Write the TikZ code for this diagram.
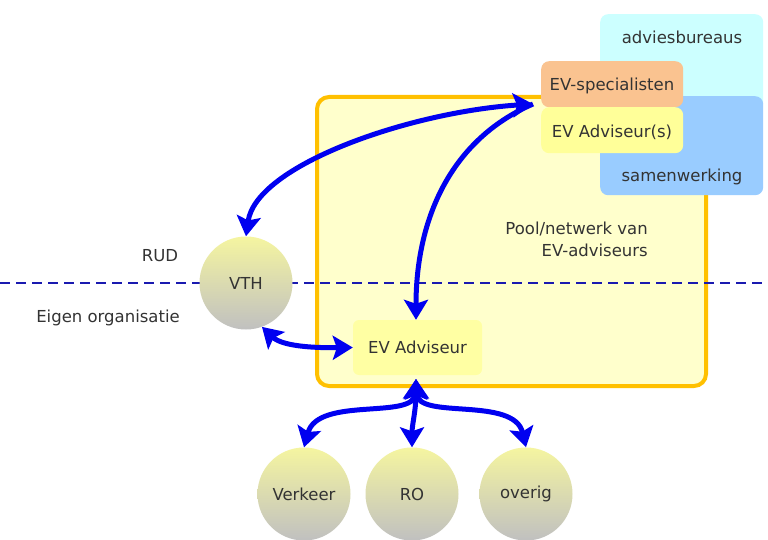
\documentclass[tikz,border=0pt]{standalone}
\usepackage{fontspec}
\setmainfont{DejaVu Sans}
\usetikzlibrary{arrows.meta}
\definecolor{txt}{HTML}{333333}
\definecolor{arrblue}{HTML}{0000F0}
\definecolor{dashblue}{HTML}{1A1AB0}
\definecolor{poolfill}{HTML}{FFFFCC}
\definecolor{poolline}{HTML}{FFC000}
\definecolor{cyanbox}{HTML}{CCFFFF}
\definecolor{bluebox}{HTML}{99CCFF}
\definecolor{salmon}{HTML}{FAC390}
\definecolor{advfill}{HTML}{FFFF99}
\definecolor{circtop}{HTML}{F5F5A0}
\definecolor{circbot}{HTML}{C0C0C0}
\begin{document}
\begin{tikzpicture}[x=1pt,y=-1pt,
  font=\fontsize{16.5}{22}\selectfont, text=txt,
  tip/.tip={Stealth[length=20pt,width=24pt,inset=4pt]},
  arr/.style={draw=arrblue, line width=5pt},
  box/.style={rounded corners=8pt, inner sep=0pt, anchor=north west},
  circ/.style={circle, minimum size=93pt, inner sep=0pt, top color=circtop, bottom color=circbot, draw=none},
  lbl/.style={inner sep=0pt}]
\clip (0,0) rectangle (768,540);
\fill[white] (0,0) rectangle (768,540);
% pool box
\node[draw=poolline, fill=poolfill, line width=4pt, rounded corners=12pt,
  minimum width=389pt, minimum height=289pt, inner sep=0pt] (pool) at (511.5,241.5) {};
\node[lbl, align=right, anchor=north east] (pooltxt) at (648,222) {Pool/netwerk van\\EV-adviseurs};
% dashed line
\coordinate (dl) at (0,283);
\coordinate (dr) at (768,283);
\draw[dashblue, line width=2pt, dash pattern=on 10pt off 6pt] (dl) -- (dr);
\node[lbl] (rud) at (160,256) {RUD};
\node[lbl] (eigen) at (108,318) {Eigen organisatie};
% right boxes
\node[box, fill=cyanbox, minimum width=163pt, minimum height=96pt] (adv) at (600,14) {};
\node[lbl] (advtxt) at (682,37) {adviesbureaus};
\node[box, fill=bluebox, minimum width=163pt, minimum height=99pt] (samen) at (600,96) {};
\node[lbl] (samentxt) at (682,177) {samenwerking};
\node[box, fill=salmon, minimum width=142pt, minimum height=46pt] (spec) at (541,61) {};
\node[lbl] (spectxt) at (612,86) {EV-specialisten};
\node[box, fill=advfill, minimum width=142pt, minimum height=46pt] (advs) at (541,107) {};
\node[lbl] (advstxt) at (612,132) {EV Adviseur(s)};
% EV adviseur
\node[fill=advfill!80!poolfill, rounded corners=6pt, minimum width=129pt, minimum height=55pt, inner sep=0pt] (eva) at (417.5,347.5) {EV Adviseur};
% circles
\node[circ] (vth) at (246,283) {VTH};
\node[circ] (verk) at (304,494) {Verkeer};
\node[circ] (ro) at (412,494) {RO};
\node[circ] (ov) at (526,494) {overig};
% hubs
\coordinate (hub) at (533,104);
\coordinate (hubb) at (416,379);
% arrows
\draw[arr, {tip}-{tip}] (vth.north) .. controls (256,165) and (410,112) .. (hub);
\draw[arr, -{tip}] (hub) .. controls (450,140) and (416,220) .. (eva.north -| 416,0);
\draw[arr, {tip}-{tip}] (vth.-70) .. controls (282,346) and (312,348) .. (eva.west);
\draw[arr, {tip}-{tip}] (hubb) .. controls (414,420) and (318,396) .. (verk.north);
\draw[arr, {tip}-{tip}] (hubb) .. controls (416,410) and (412,425) .. (ro.north);
\draw[arr, {tip}-{tip}] (hubb) .. controls (418,420) and (514,396) .. (ov.north);
\end{tikzpicture}
\end{document}
